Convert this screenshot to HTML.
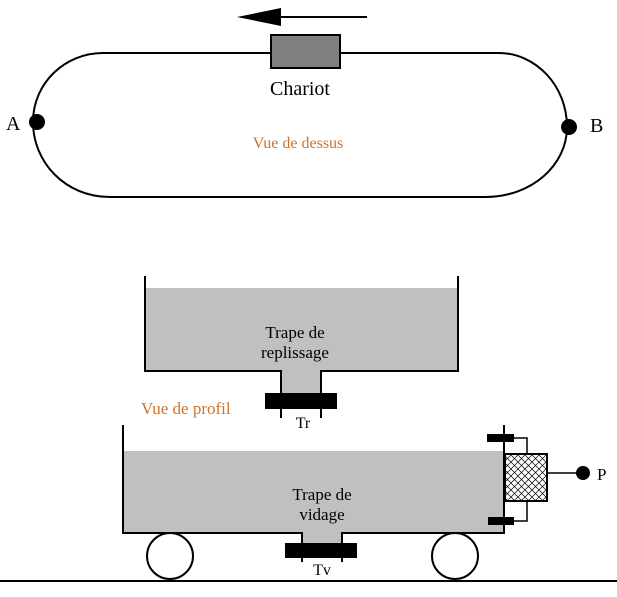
<!DOCTYPE html>
<html><head><meta charset="utf-8"><style>
html,body{margin:0;padding:0;background:#fff}
svg{display:block}
text{font-family:"Liberation Serif",serif;fill:#000}
</style></head><body>
<svg width="617" height="597" viewBox="0 0 617 597" xmlns="http://www.w3.org/2000/svg">
<defs>
<pattern id="h" width="7" height="7" patternUnits="userSpaceOnUse">
<rect width="7" height="7" fill="#fff"/>
<path d="M0 0L7 7M7 0L0 7" stroke="#000" stroke-width="0.7"/>
</pattern>
</defs>
<line x1="367" y1="17" x2="275" y2="17" stroke="#000" stroke-width="2"/>
<polygon points="237,17 281,8 281,26" fill="#000"/>
<path d="M103 53 L499 53 C535 53 567 85 567 127 C567 165 532 197 485 197 L110 197 C65 197 33 162 33 122 C33 83 65 53 103 53 Z" fill="none" stroke="#000" stroke-width="2"/>
<rect x="271" y="35" width="69" height="33" fill="#808080" stroke="#000" stroke-width="2"/>
<text x="300" y="95" font-size="20" text-anchor="middle">Chariot</text>
<circle cx="37" cy="122" r="8" fill="#000"/>
<circle cx="569" cy="127" r="8" fill="#000"/>
<text x="6" y="130" font-size="20">A</text>
<text x="590" y="132" font-size="20">B</text>
<text x="298" y="148" font-size="16" text-anchor="middle" style="fill:#d0722a">Vue de dessus</text>
<rect x="145" y="288" width="313" height="83" fill="#c0c0c0"/>
<rect x="281" y="370" width="40" height="25" fill="#c0c0c0"/>
<path d="M145 276 L145 371 L281 371 L281 418 M321 418 L321 371 L458 371 L458 276" fill="none" stroke="#000" stroke-width="2"/>
<rect x="265" y="393" width="72" height="16" fill="#000"/>
<text x="295" y="338" font-size="17" text-anchor="middle">Trape de</text>
<text x="295" y="358" font-size="17" text-anchor="middle">replissage</text>
<text x="303" y="428" font-size="16" text-anchor="middle">Tr</text>
<text x="141" y="414" font-size="17" style="fill:#d0722a">Vue de profil</text>
<rect x="123" y="451" width="381" height="82" fill="#c0c0c0"/>
<rect x="302" y="532" width="40" height="12" fill="#c0c0c0"/>
<path d="M123 425 L123 533 L302 533 L302 562 M342 562 L342 533 L504 533 L504 425" fill="none" stroke="#000" stroke-width="2"/>
<rect x="285" y="543" width="72" height="15" fill="#000"/>
<text x="322" y="500" font-size="17" text-anchor="middle">Trape de</text>
<text x="322" y="520" font-size="17" text-anchor="middle">vidage</text>
<text x="322" y="575" font-size="16" text-anchor="middle">Tv</text>
<circle cx="170" cy="556" r="23" fill="#fff" stroke="#000" stroke-width="2"/>
<circle cx="455" cy="556" r="23" fill="#fff" stroke="#000" stroke-width="2"/>
<line x1="0" y1="581" x2="617" y2="581" stroke="#000" stroke-width="2"/>
<rect x="487" y="434" width="27" height="8" fill="#000"/>
<rect x="488" y="517" width="26" height="8" fill="#000"/>
<path d="M514 438 L527 438 L527 454 M527 501 L527 521 L514 521" fill="none" stroke="#000" stroke-width="1.5"/>
<rect x="505" y="454" width="42" height="47" fill="url(#h)" stroke="#000" stroke-width="2"/>
<line x1="547" y1="473" x2="580" y2="473" stroke="#000" stroke-width="1.5"/>
<circle cx="583" cy="473" r="7" fill="#000"/>
<text x="597" y="480" font-size="17">P</text>
</svg>
</body></html>
